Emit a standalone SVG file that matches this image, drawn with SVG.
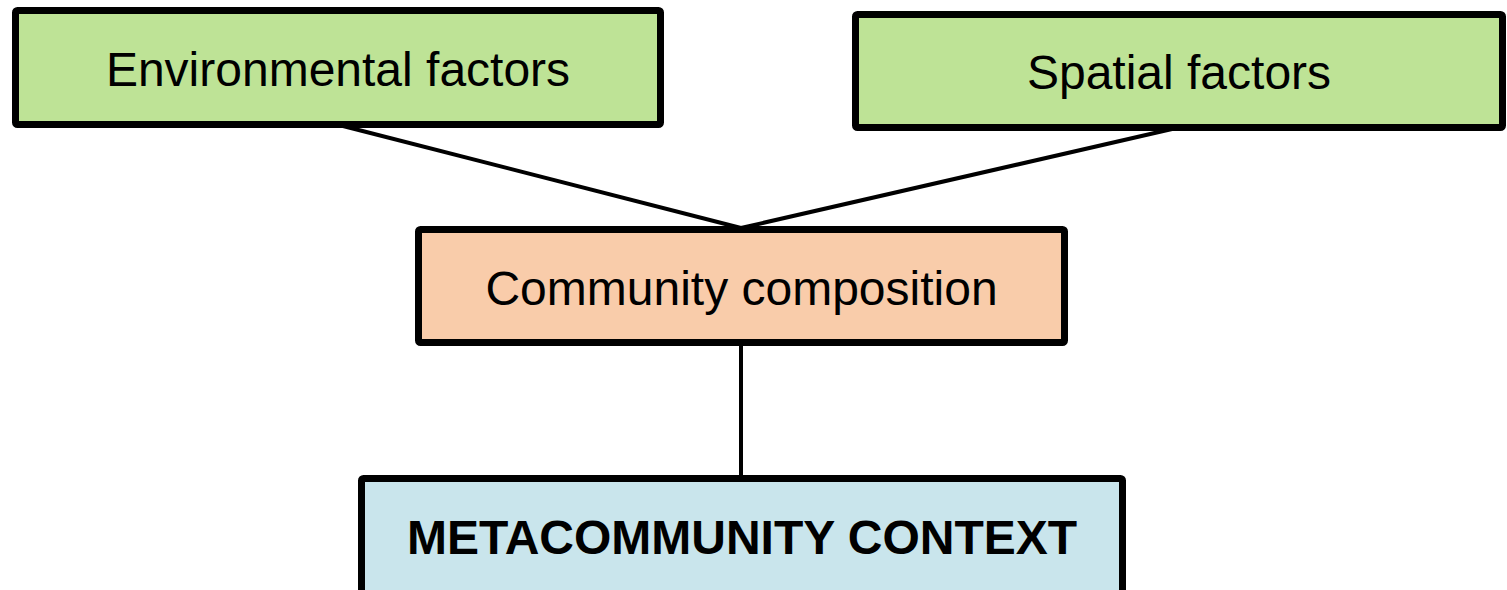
<svg xmlns="http://www.w3.org/2000/svg" width="1507" height="590" viewBox="0 0 1507 590">
<style>
.box{stroke:#000;stroke-width:7;stroke-linejoin:round}
.green{fill:#BEE396}
.orange{fill:#F9CCAA}
.blue{fill:#C9E5EC}
.lbl{font-family:"Liberation Sans",Arial,sans-serif;font-size:48px;fill:#000;text-anchor:middle}
.bold{font-weight:bold}
.conn{stroke:#000;stroke-width:4;fill:none}
</style>
<rect width="1507" height="590" fill="#fff"/>
<g id="connectors">
<line class="conn" x1="343" y1="126" x2="741" y2="228"/>
<line class="conn" x1="1172" y1="129" x2="741" y2="228"/>
<line class="conn" x1="741" y1="345" x2="741" y2="477"/>
</g>
<g id="env">
<rect class="box green" x="15.5" y="10.5" width="645" height="114" rx="2"/>
<text class="lbl" x="338" y="86">Environmental factors</text>
</g>
<g id="spatial">
<rect class="box green" x="855.5" y="14.5" width="647" height="113" rx="2"/>
<text class="lbl" x="1179" y="89">Spatial factors</text>
</g>
<g id="community">
<rect class="box orange" x="418.5" y="229.5" width="646" height="113" rx="2"/>
<text class="lbl" x="741.5" y="305">Community composition</text>
</g>
<g id="meta">
<rect class="box blue" x="361.5" y="478.5" width="761" height="130" rx="2"/>
<text class="lbl bold" x="742" y="554">METACOMMUNITY CONTEXT</text>
</g>
</svg>
